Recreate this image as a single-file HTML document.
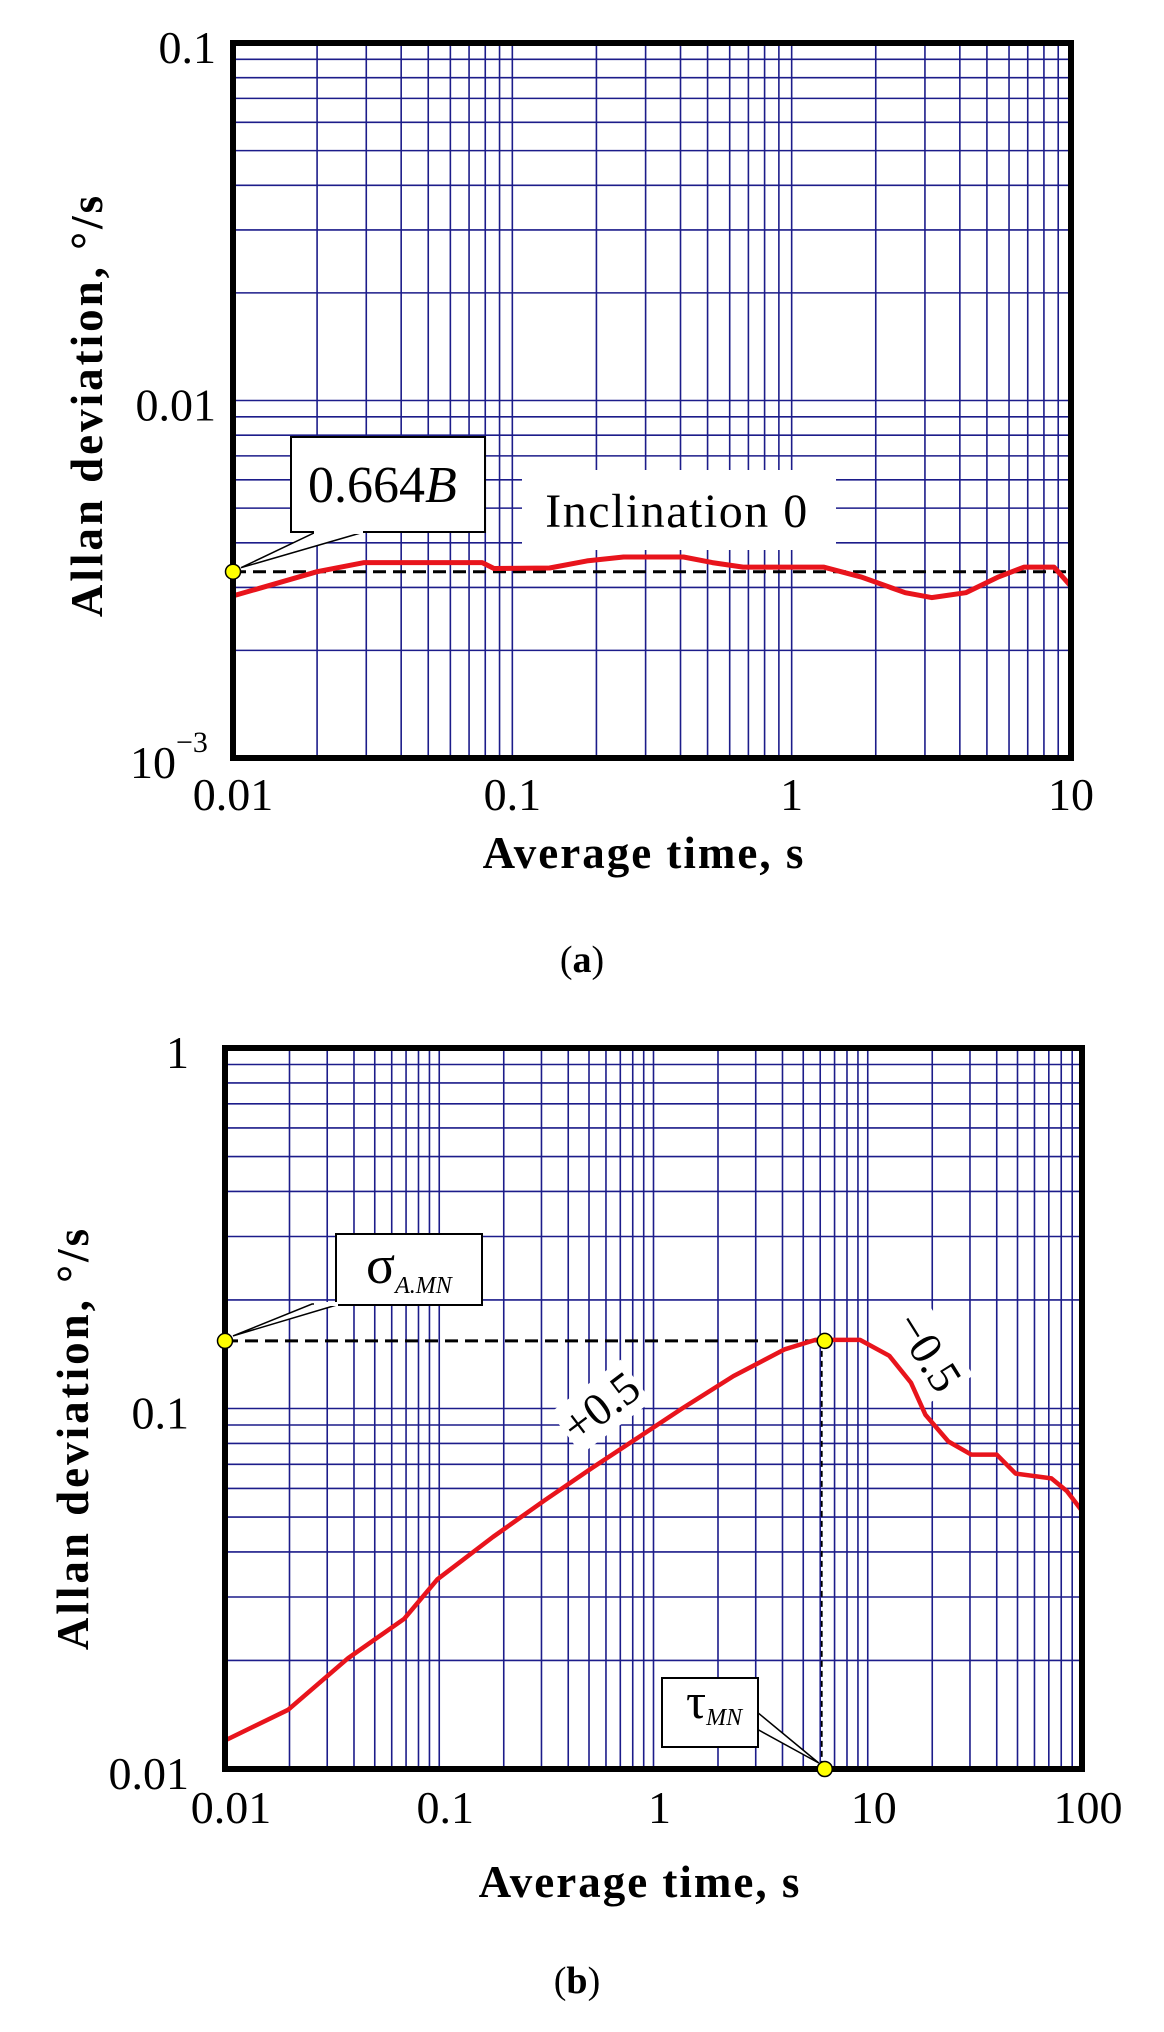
<!DOCTYPE html>
<html><head><meta charset="utf-8"><style>
html,body{margin:0;padding:0;background:#fff;}
svg{display:block;}
text{font-family:"Liberation Serif",serif;fill:#000;}
</style></head>
<body>
<svg id="fig" xmlns="http://www.w3.org/2000/svg" width="1164" height="2032" viewBox="0 0 1164 2032">
<rect width="1164" height="2032" fill="#fff"/>
<g id="chartA"></g>
<g id="chartB"></g>
</svg>
<script>
// ---- Chart (a) data ----
const aTimes = [0.01, 0.02, 0.0295, 0.078, 0.086, 0.136, 0.185, 0.25, 0.41, 0.52, 0.67, 1.3, 1.77, 2.55, 3.17, 4.2, 5.5, 6.8, 8.7, 10];
const aDev = [0.00284, 0.00332, 0.00352, 0.00352, 0.00339, 0.0034, 0.00356, 0.00365, 0.00365, 0.00352, 0.00342, 0.00342, 0.00321, 0.0029, 0.00281, 0.0029, 0.00321, 0.00342, 0.00342, 0.00302];
const aLevel = [0.00332];
const aXTickLabels = ["0.01", "0.1", "1", "10"];
const aXTickValues = [0.01, 0.1, 1, 10];
const aYTickValues = [0.1, 0.01];
const aYTickLabels = ["0.1", "0.01"];
// ---- Chart (b) data ----
const bTimes = [0.01, 0.0197, 0.0376, 0.0686, 0.098, 0.178, 0.31, 0.52, 0.84, 1.36, 2.36, 4.1, 5.7, 9.2, 12.6, 15.9, 18.6, 23.8, 30.4, 40, 49, 72, 85, 100];
const bDev = [0.012, 0.0146, 0.0203, 0.0261, 0.0336, 0.044, 0.0556, 0.0686, 0.0828, 0.1, 0.123, 0.146, 0.155, 0.155, 0.14, 0.118, 0.096, 0.081, 0.0745, 0.0745, 0.066, 0.064, 0.059, 0.052];
const bPeak = [6.3, 0.154];
const bXTickLabels = ["0.01", "0.1", "1", "10", "100"];
const bXTickValues = [0.01, 0.1, 1, 10, 100];
const bYTickValues = [1, 0.1, 0.01];
const bYTickLabels = ["1", "0.1", "0.01"];

const NS = "http://www.w3.org/2000/svg";
const L = Math.log10;
function mk(parent, tag, attrs, txt) {
  const e = document.createElementNS(NS, tag);
  for (const k in attrs) e.setAttribute(k, attrs[k]);
  if (txt !== undefined) e.textContent = txt;
  parent.appendChild(e);
  return e;
}
const A = {x0: 233, x1: 1071, y0: 43, y1: 758, xmin: -2, xmax: 1, ymin: -3, ymax: -1};
const B = {x0: 225, x1: 1082, y0: 1048, y1: 1769, xmin: -2, xmax: 2, ymin: -2, ymax: 0};
function sx(c, v) { return c.x0 + (L(v) - c.xmin) / (c.xmax - c.xmin) * (c.x1 - c.x0); }
function sy(c, v) { return c.y1 - (L(v) - c.ymin) / (c.ymax - c.ymin) * (c.y1 - c.y0); }

function grid(g, c) {
  for (let d = c.xmin; d < c.xmax; d++) {
    for (let m = 1; m <= 9; m++) {
      if (d === c.xmin && m === 1) continue;
      const x = sx(c, m * Math.pow(10, d));
      const ln = mk(g, "line", {x1: x, x2: x, y1: c.y0, y2: c.y1, stroke: "#1c1c8a", "stroke-width": 1.6});
      
      
    }
  }
  for (let d = c.ymin; d < c.ymax; d++) {
    for (let m = 1; m <= 9; m++) {
      if (d === c.ymin && m === 1) continue;
      const y = sy(c, m * Math.pow(10, d));
      const ln = mk(g, "line", {x1: c.x0, x2: c.x1, y1: y, y2: y, stroke: "#1c1c8a", "stroke-width": 1.6});
      
      
    }
  }
}
function frame(g, c) {
  const r = mk(g, "rect", {x: c.x0, y: c.y0, width: c.x1 - c.x0, height: c.y1 - c.y0, fill: "none", stroke: "#000", "stroke-width": 6});
  
  
}
function curve(g, c, xs, ys, w) {
  const pts = xs.map((t, i) => sx(c, t).toFixed(1) + "," + sy(c, ys[i]).toFixed(1)).join(" ");
  const p = mk(g, "polyline", {points: pts, fill: "none", stroke: "#e8141c", "stroke-width": w, "stroke-linejoin": "round", "stroke-linecap": "round"});
  
  
}
function dot(g, x, y, name) {
  const d = mk(g, "circle", {cx: x, cy: y, r: 7.5, fill: "#ffff00", stroke: "#000", "stroke-width": 1.5});
  
  
}

// ===== Chart A =====
const ga = document.getElementById("chartA");
grid(ga, A);
mk(ga, "rect", {x: 522, y: 470, width: 314, height: 80, fill: "#fff"});
const yl = sy(A, aLevel[0]);
const dashA = mk(ga, "line", {x1: A.x0, x2: A.x1, y1: yl, y2: yl, stroke: "#000", "stroke-width": 3, "stroke-dasharray": "13 7"});


curve(ga, A, aTimes, aDev, 5);
frame(ga, A);
dot(ga, A.x0, yl, 'bias-marker');
const cbA = mk(ga, "g", {});


mk(cbA, "polygon", {points: `${A.x0 + 8},${yl - 4} 316,532 364,532`, fill: "#fff", stroke: "#000", "stroke-width": 1.5});
mk(cbA, "rect", {x: 291, y: 437, width: 194, height: 95, fill: "#fff", stroke: "#000", "stroke-width": 2});
mk(cbA, "rect", {x: 314, y: 530, width: 49, height: 4, fill: "#fff"});
const tA = mk(cbA, "text", {x: 308, y: 502, "font-size": 52});
tA.innerHTML = '0.664<tspan font-style="italic">B</tspan>';
const inc = mk(ga, "text", {x: 677, y: 527, "font-size": 48, "letter-spacing": "1.5", "text-anchor": "middle"}, "Inclination 0");


aXTickValues.forEach((v, i) => {
  const t = mk(ga, "text", {x: sx(A, v), y: 810, "font-size": 46, "text-anchor": "middle"}, aXTickLabels[i]);
  
  
});
aYTickValues.forEach((v, i) => {
  const t = mk(ga, "text", {x: 216, y: sy(A, v) + 20, "font-size": 46, "text-anchor": "end"}, aYTickLabels[i]);
  
  
});
const t3 = mk(ga, "text", {x: 130, y: 778, "font-size": 46});
t3.innerHTML = '10<tspan dy="-26" font-size="30">−3</tspan>';


const xtA = mk(ga, "text", {x: 644, y: 868, "font-size": 45, "font-weight": "bold", "letter-spacing": "2", "text-anchor": "middle"}, "Average time, s");


const ytA = mk(ga, "text", {x: 0, y: 0, "font-size": 45, "font-weight": "bold", "letter-spacing": "3", "text-anchor": "middle", transform: "translate(102,405) rotate(-90)"}, "Allan deviation, °/s");


const capA = mk(ga, "text", {x: 582, y: 972, "font-size": 38, "text-anchor": "middle"});
capA.innerHTML = '(<tspan font-weight="bold">a</tspan>)';



// ===== Chart B =====
const gb = document.getElementById("chartB");
grid(gb, B);
const px = sx(B, bPeak[0]), py = sy(B, bPeak[1]);
mk(gb, "rect", {x: -44, y: -26, width: 88, height: 52, fill: "#fff", transform: "translate(601,1407) rotate(-37)"});
mk(gb, "rect", {x: -44, y: -26, width: 88, height: 52, fill: "#fff", transform: "translate(928,1352) rotate(58)"});
const dashB = mk(gb, "line", {x1: B.x0, x2: px, y1: py, y2: py, stroke: "#000", "stroke-width": 3, "stroke-dasharray": "13 7"});


const vB = mk(gb, "line", {x1: px - 3, x2: px - 3, y1: py, y2: B.y1, stroke: "#000", "stroke-width": 1.8, "stroke-dasharray": "6 4"});


curve(gb, B, bTimes, bDev, 4.5);
frame(gb, B);
dot(gb, B.x0, py, 'sigma-marker');
dot(gb, px, py, 'peak-marker');
dot(gb, px, B.y1, 'tau-marker');
const cbS = mk(gb, "g", {});


mk(cbS, "polygon", {points: `${B.x0 + 8},${py - 5} 312,1304 340,1304`, fill: "#fff", stroke: "#000", "stroke-width": 1.5});
mk(cbS, "rect", {x: 336, y: 1234, width: 146, height: 71, fill: "#fff", stroke: "#000", "stroke-width": 2});
mk(cbS, "rect", {x: 314, y: 1302, width: 24, height: 4, fill: "#fff"});
const sT = mk(cbS, "text", {x: 366, y: 1283, "font-size": 54});
sT.innerHTML = 'σ<tspan dy="10" font-size="24" font-style="italic">A.MN</tspan>';
const cbT = mk(gb, "g", {});


mk(cbT, "polygon", {points: `${px - 6},${B.y1 - 6} 757,1712 755,1728`, fill: "#fff", stroke: "#000", "stroke-width": 1.5});
mk(cbT, "rect", {x: 662, y: 1678, width: 96, height: 69, fill: "#fff", stroke: "#000", "stroke-width": 2});
const tT = mk(cbT, "text", {x: 686, y: 1718, "font-size": 50});
tT.innerHTML = 'τ<tspan dy="7" font-size="24" font-style="italic">MN</tspan>';
const sp = mk(gb, "text", {x: 0, y: 15, "font-size": 46, "text-anchor": "middle", transform: "translate(601,1407) rotate(-37)"}, "+0.5");


const sm = mk(gb, "text", {x: 0, y: 15, "font-size": 46, "text-anchor": "middle", transform: "translate(928,1352) rotate(58)"}, "−0.5");


bXTickValues.forEach((v, i) => {
  const t = mk(gb, "text", {x: sx(B, v) + 6, y: 1823, "font-size": 46, "text-anchor": "middle"}, bXTickLabels[i]);
  
  
});
bYTickValues.forEach((v, i) => {
  const t = mk(gb, "text", {x: 189, y: sy(B, v) + 20, "font-size": 46, "text-anchor": "end"}, bYTickLabels[i]);
  
  
});
const xtB = mk(gb, "text", {x: 640, y: 1897, "font-size": 45, "font-weight": "bold", "letter-spacing": "2", "text-anchor": "middle"}, "Average time, s");


const ytB = mk(gb, "text", {x: 0, y: 0, "font-size": 45, "font-weight": "bold", "letter-spacing": "3", "text-anchor": "middle", transform: "translate(88,1438) rotate(-90)"}, "Allan deviation, °/s");


const capB = mk(gb, "text", {x: 577, y: 1993, "font-size": 38, "text-anchor": "middle"});
capB.innerHTML = '(<tspan font-weight="bold">b</tspan>)';


</script>
</body></html>
